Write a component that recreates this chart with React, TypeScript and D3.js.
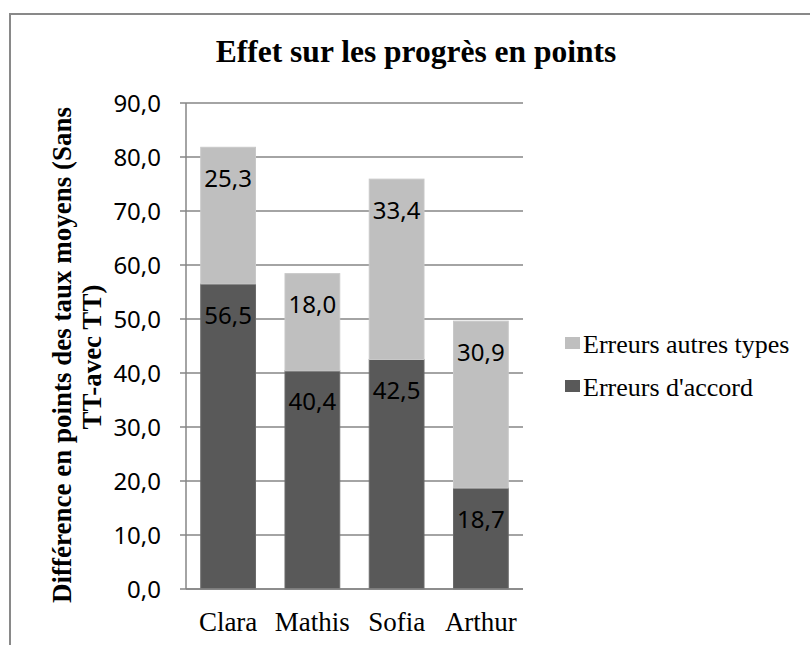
import React from 'react';
import * as d3 from 'd3';

const categories = ['Clara', 'Mathis', 'Sofia', 'Arthur'];
const accordValues = [56.5, 40.4, 42.5, 18.7];
const autresValues = [25.3, 18.0, 33.4, 30.9];
const seriesNames = ["Erreurs d'accord", 'Erreurs autres types'];
const seriesColors = ['#595959', '#BFBFBF'];
const yTicks = [0, 10, 20, 30, 40, 50, 60, 70, 80, 90];

const fmt = (v: number) => v.toFixed(1).replace('.', ',');

const App = () => {
    const width = 810;
    const height = 645;
    const margin = { top: 103, right: 287, bottom: 56, left: 186 };
    const innerRight = width - margin.right;
    const innerBottom = height - margin.bottom;

    const x = d3.scaleBand()
        .domain(categories)
        .range([margin.left, innerRight])
        .paddingInner(0.35)
        .paddingOuter(0.175);

    const y = d3.scaleLinear()
        .domain([0, 90])
        .range([innerBottom, margin.top]);

    // stack the two series: dark at the bottom, light on top
    const rows = categories.map((c, i) => ({ cat: c, accord: accordValues[i], autres: autresValues[i] }));
    const stacked = d3.stack<any>().keys(['accord', 'autres'])(rows);

    const serif = '"Liberation Serif", "Times New Roman", serif';
    const sans = '"Noto Sans", "Open Sans", sans-serif';

    return (
        <svg width={width} height={height} style={{ position: 'absolute', left: 0, top: 0 }}>
            <rect x={0} y={0} width={width} height={height} fill="#fff" />
            <rect x={10} y={14} width={width + 20} height={height + 20} fill="none" stroke="#898989" strokeWidth={2} />

            <text x={416} y={62} textAnchor="middle" fontFamily={serif} fontWeight="bold" fontSize={31.5}>
                Effet sur les progrès en points
            </text>

            {/* grid lines */}
            {yTicks.map(t => (
                <line key={t} x1={margin.left - 6} x2={innerRight} y1={y(t)} y2={y(t)} stroke="#868686" strokeWidth={1.5} />
            ))}
            <line x1={margin.left} x2={margin.left} y1={margin.top} y2={innerBottom} stroke="#868686" strokeWidth={1.5} />

            {yTicks.map(t => (
                <text key={t} x={161} y={y(t)} dy="0.36em" textAnchor="end" fontFamily={sans} fontSize={24} fill="#000">
                    {fmt(t)}
                </text>
            ))}

            {stacked.map((s, si) => (
                <g key={si}>
                    {s.map((d, i) => (
                        <g key={i}>
                            <rect
                                x={x(categories[i])}
                                y={y(d[1])}
                                width={x.bandwidth()}
                                height={y(d[0]) - y(d[1])}
                                fill={seriesColors[si]}
                                stroke={si === 0 ? '#6a6a6a' : '#c8c8c8'}
                                strokeWidth={1}
                            />
                            <text
                                x={(x(categories[i]) as number) + x.bandwidth() / 2}
                                y={y(d[1]) + 31}
                                dy="0.36em"
                                textAnchor="middle"
                                fontFamily={sans}
                                fontSize={24}
                                fill="#000"
                            >
                                {fmt(d[1] - d[0])}
                            </text>
                        </g>
                    ))}
                </g>
            ))}

            <line x1={margin.left} x2={innerRight} y1={innerBottom} y2={innerBottom} stroke="#868686" strokeWidth={1.5} />

            {categories.map(c => (
                <text key={c} x={(x(c) as number) + x.bandwidth() / 2} y={631} textAnchor="middle" fontFamily={serif} fontSize={27}>
                    {c}
                </text>
            ))}

            <text transform="translate(71,355) rotate(-90)" textAnchor="middle" fontFamily={serif} fontWeight="bold" fontSize={27}>
                Différence en points des taux moyens (Sans
            </text>
            <text transform="translate(101,357) rotate(-90)" textAnchor="middle" fontFamily={serif} fontWeight="bold" fontSize={27}>
                TT-avec TT)
            </text>

            {/* legend, top entry is the upper series */}
            {[1, 0].map((si, k) => (
                <g key={si} transform={`translate(565,${337 + k * 43})`}>
                    <rect x={0} y={0} width={15} height={12} fill={seriesColors[si]} />
                    <text x={18} y={16} fontFamily={serif} fontSize={26}>
                        {seriesNames[si]}
                    </text>
                </g>
            ))}
        </svg>
    );
};

export default App;
